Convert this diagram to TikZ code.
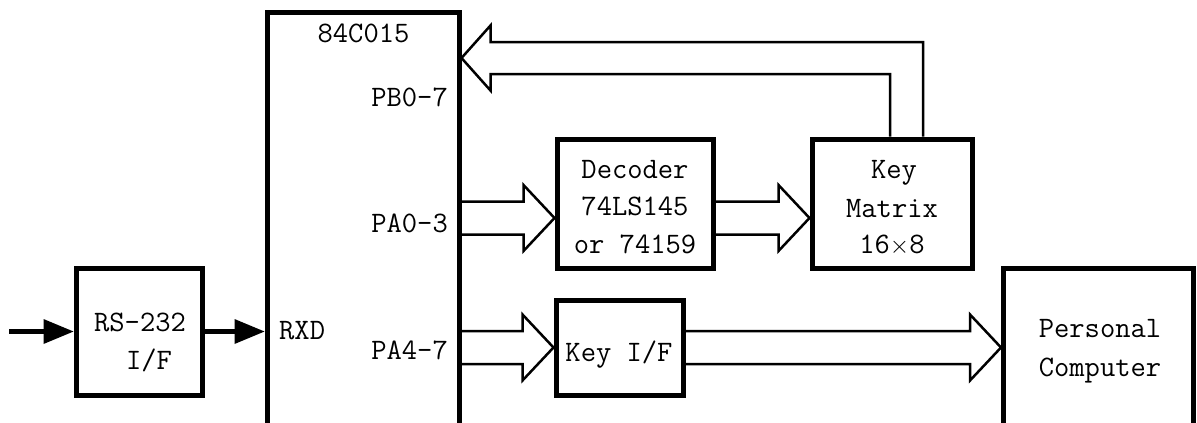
\documentclass[tikz,border=0pt]{standalone}
\usetikzlibrary{arrows.meta,calc}
\newcommand\hollowarrow[4]{% start, tip, shaft half-width, head half-height
  \draw[hol] ($(#1)+(0,-#3)$) -- ($(#2)+(-31,-#3)$) -- ($(#2)+(-31,-#4)$) -- (#2)
    -- ($(#2)+(-31,#4)$) -- ($(#2)+(-31,#3)$) -- ($(#1)+(0,#3)$);}
\begin{document}
\begin{tikzpicture}[x=1pt,y=-1pt,
  box/.style={draw,line width=5pt,inner sep=0pt,rectangle},
  txt/.style={font=\fontsize{29.7}{37.5}\selectfont\ttfamily,inner sep=0pt,text height=18.2pt,text depth=0pt},
  hol/.style={draw,line width=2.5pt,line join=miter},
  thickline/.style={line width=5pt,line join=miter},
  solidarrow/.style={line width=5pt,-{Triangle[length=30pt,width=25pt,line width=0pt]}}]
\useasboundingbox (0,0) rectangle (1197,423);

% 84C015 chip (open at the bottom)
\coordinate (chipBL) at (267,423);
\coordinate (chipTL) at (267,12);
\coordinate (chipTR) at (459,12);
\coordinate (chipBR) at (459,423);
\draw[thickline] (chipBL) -- (chipTL) -- (chipTR) -- (chipBR);

% personal computer (open at the bottom)
\coordinate (pcBL) at (1003.5,423);
\coordinate (pcTL) at (1003.5,268);
\coordinate (pcTR) at (1193,268);
\coordinate (pcBR) at (1193,423);
\draw[thickline] (pcBL) -- (pcTL) -- (pcTR) -- (pcBR);

% boxes
\node[box,minimum width=126pt,minimum height=127pt] (rs) at (139,331.5) {};
\node[box,minimum width=156pt,minimum height=129pt] (dec) at (635,203.5) {};
\node[box,minimum width=160pt,minimum height=129pt] (km) at (892,203.5) {};
\node[box,minimum width=127pt,minimum height=95pt] (kif) at (619.5,347.5) {};

% texts
\node[txt] (t84) at (363.5,33) {84C015};
\node[txt,anchor=east] (tpb) at (448,97) {PB0-7};
\node[txt,anchor=east] (tpa03) at (448,223) {PA0-3};
\node[txt,anchor=west] (trxd) at (279,330) {RXD};
\node[txt,anchor=east] (tpa47) at (448,350) {PA4-7};
\node[txt] (trs1) at (140,322) {RS-232};
\node[txt] (trs2) at (149,360) {I/F};
\node[txt] (tdec1) at (635,169) {Decoder};
\node[txt] (tdec2) at (635,206) {74LS145};
\node[txt] (tdec3) at (635,244) {or 74159};
\node[txt] (tkm1) at (894,169) {Key};
\node[txt] (tkm2) at (892,208) {Matrix};
\node[txt] (tkm3) at (892,244) {16$\times$8};
\node[txt] (tkif) at (619,352) {Key I/F};
\node[txt] (tpc1) at (1100,328) {Personal};
\node[txt] (tpc2) at (1100,367) {Computer};

% serial input arrows
\coordinate (inp) at (9,331.5);
\coordinate (rxd) at (264.5,331.5);
\draw[solidarrow] (inp) -- (rs.west);
\draw[solidarrow] (rs.east) -- (rxd);

% hollow bus arrows
\coordinate (pa03) at (459,218);
\coordinate (pa47) at (459,347.5);
\coordinate (pcw) at (1001,347.5);
\hollowarrow{pa03}{dec.west |- pa03}{16.5}{33}
\hollowarrow{dec.east |- pa03}{km.west |- pa03}{16.5}{33}
\hollowarrow{pa47}{kif.west}{16.5}{33}
\hollowarrow{kif.east}{pcw}{16.5}{33}

% key matrix back to PB0-7
\coordinate (pb) at (461.5,58);
\draw[hol] ($(km.north)+(-2,0)$) -- ($(km.north |- pb)+(-2,16)$) -- ($(pb)+(29,16)$)
  -- ($(pb)+(29,32.5)$) -- (pb) -- ($(pb)+(29,-32.5)$) -- ($(pb)+(29,-16)$)
  -- ($(km.north |- pb)+(31,-16)$) -- ($(km.north)+(31,0)$);
\end{tikzpicture}
\end{document}
